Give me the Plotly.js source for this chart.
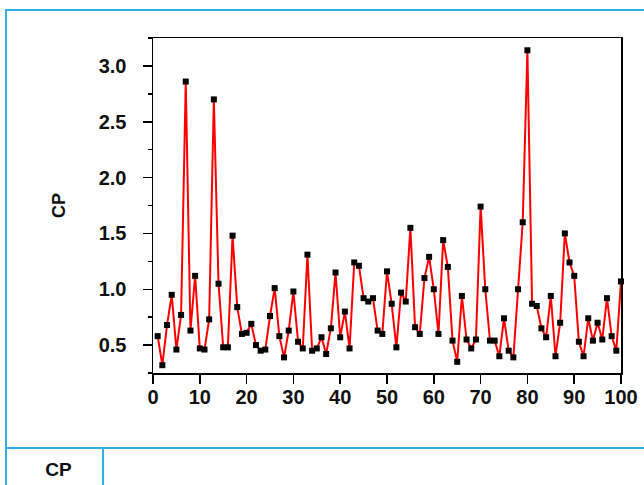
<!DOCTYPE html>
<html>
<head>
<meta charset="utf-8">
<script src="https://cdn.plot.ly/plotly-3.0.1.min.js"></script>
<style>
  html, body { margin: 0; padding: 0; background: #ffffff; }
  #wrap { position: relative; width: 644px; height: 485px; overflow: hidden; }
  #chart { position: absolute; left: 0; top: 0; width: 644px; height: 485px; }
  .bl { position: absolute; background: #2fb0e6; }
  #cellText { position: absolute; left: 10px; top: 459px; width: 97px; text-align: center;
    font-family: "Liberation Sans", Arial, sans-serif; font-weight: bold; font-size: 19px; color: #111; }
</style>
</head>
<body>
<div id="wrap">
  <div id="chart"></div>
  <div class="bl" style="left:5px; top:9px; width:639px; height:2px;"></div>
  <div class="bl" style="left:5px; top:9px; width:2px; height:476px;"></div>
  <div class="bl" style="left:5px; top:447px; width:639px; height:2px;"></div>
  <div class="bl" style="left:102px; top:447px; width:2px; height:38px;"></div>
  <div id="cellText">CP</div>
</div>
<script>
const xValues = [];
for (let i = 1; i <= 100; i++) xValues.push(i);

const cpValues = [
  0.58, 0.32, 0.68, 0.95, 0.46, 0.77, 2.86, 0.63, 1.12, 0.47,
  0.46, 0.73, 2.70, 1.05, 0.48, 0.48, 1.48, 0.84, 0.60, 0.61,
  0.69, 0.50, 0.45, 0.46, 0.76, 1.01, 0.58, 0.39, 0.63, 0.98,
  0.53, 0.47, 1.31, 0.45, 0.47, 0.57, 0.42, 0.65, 1.15, 0.57,
  0.80, 0.47, 1.24, 1.21, 0.92, 0.89, 0.92, 0.63, 0.60, 1.16,
  0.87, 0.48, 0.97, 0.89, 1.55, 0.66, 0.60, 1.10, 1.29, 1.00,
  0.60, 1.44, 1.20, 0.54, 0.35, 0.94, 0.55, 0.47, 0.55, 1.74,
  1.00, 0.54, 0.54, 0.40, 0.74, 0.45, 0.39, 1.00, 1.60, 3.14,
  0.87, 0.85, 0.65, 0.57, 0.94, 0.40, 0.70, 1.50, 1.24, 1.12,
  0.53, 0.40, 0.74, 0.54, 0.70, 0.55, 0.92, 0.58, 0.45, 1.07
];

const yTitle = "CP";

const trace = {
  x: xValues,
  y: cpValues,
  type: "scatter",
  mode: "lines+markers",
  line: { color: "#ff0000", width: 2 },
  marker: { symbol: "square", size: 6, color: "#000000" },
  cliponaxis: false,
  showlegend: false,
  hoverinfo: "x+y"
};

const tickFont = { family: "Liberation Sans, Arial, sans-serif", size: 20, color: "#111111", weight: "bold" };

const layout = {
  width: 644,
  height: 485,
  margin: { l: 153, r: 23, t: 38, b: 112, pad: 0 },
  paper_bgcolor: "rgba(0,0,0,0)",
  plot_bgcolor: "#ffffff",
  showlegend: false,
  xaxis: {
    range: [0, 100],
    tick0: 0,
    dtick: 10,
    ticks: "outside",
    ticklen: 9,
    tickwidth: 1.5,
    tickcolor: "#000000",
    showline: true,
    mirror: true,
    linecolor: "#000000",
    linewidth: 1.5,
    showgrid: false,
    zeroline: false,
    tickfont: tickFont,
    ticklabelstandoff: -4,
    fixedrange: true
  },
  yaxis: {
    range: [0.25, 3.25],
    tick0: 0.5,
    dtick: 0.5,
    tickformat: ".1f",
    ticks: "outside",
    ticklen: 9,
    tickwidth: 1.5,
    tickcolor: "#000000",
    minor: { tick0: 0.25, dtick: 0.25, ticks: "outside", ticklen: 4, tickwidth: 1.5, tickcolor: "#000000", showgrid: false },
    showline: true,
    mirror: true,
    linecolor: "#000000",
    linewidth: 1.5,
    showgrid: false,
    zeroline: false,
    tickfont: tickFont,
    ticklabelstandoff: 12,
    title: {
      text: yTitle,
      font: { family: "Liberation Sans, Arial, sans-serif", size: 18, color: "#111111", weight: "bold" },
      standoff: 28
    },
    automargin: false,
    fixedrange: true
  }
};

Plotly.newPlot("chart", [trace], layout, { displayModeBar: false, staticPlot: true });
</script>
</body>
</html>
